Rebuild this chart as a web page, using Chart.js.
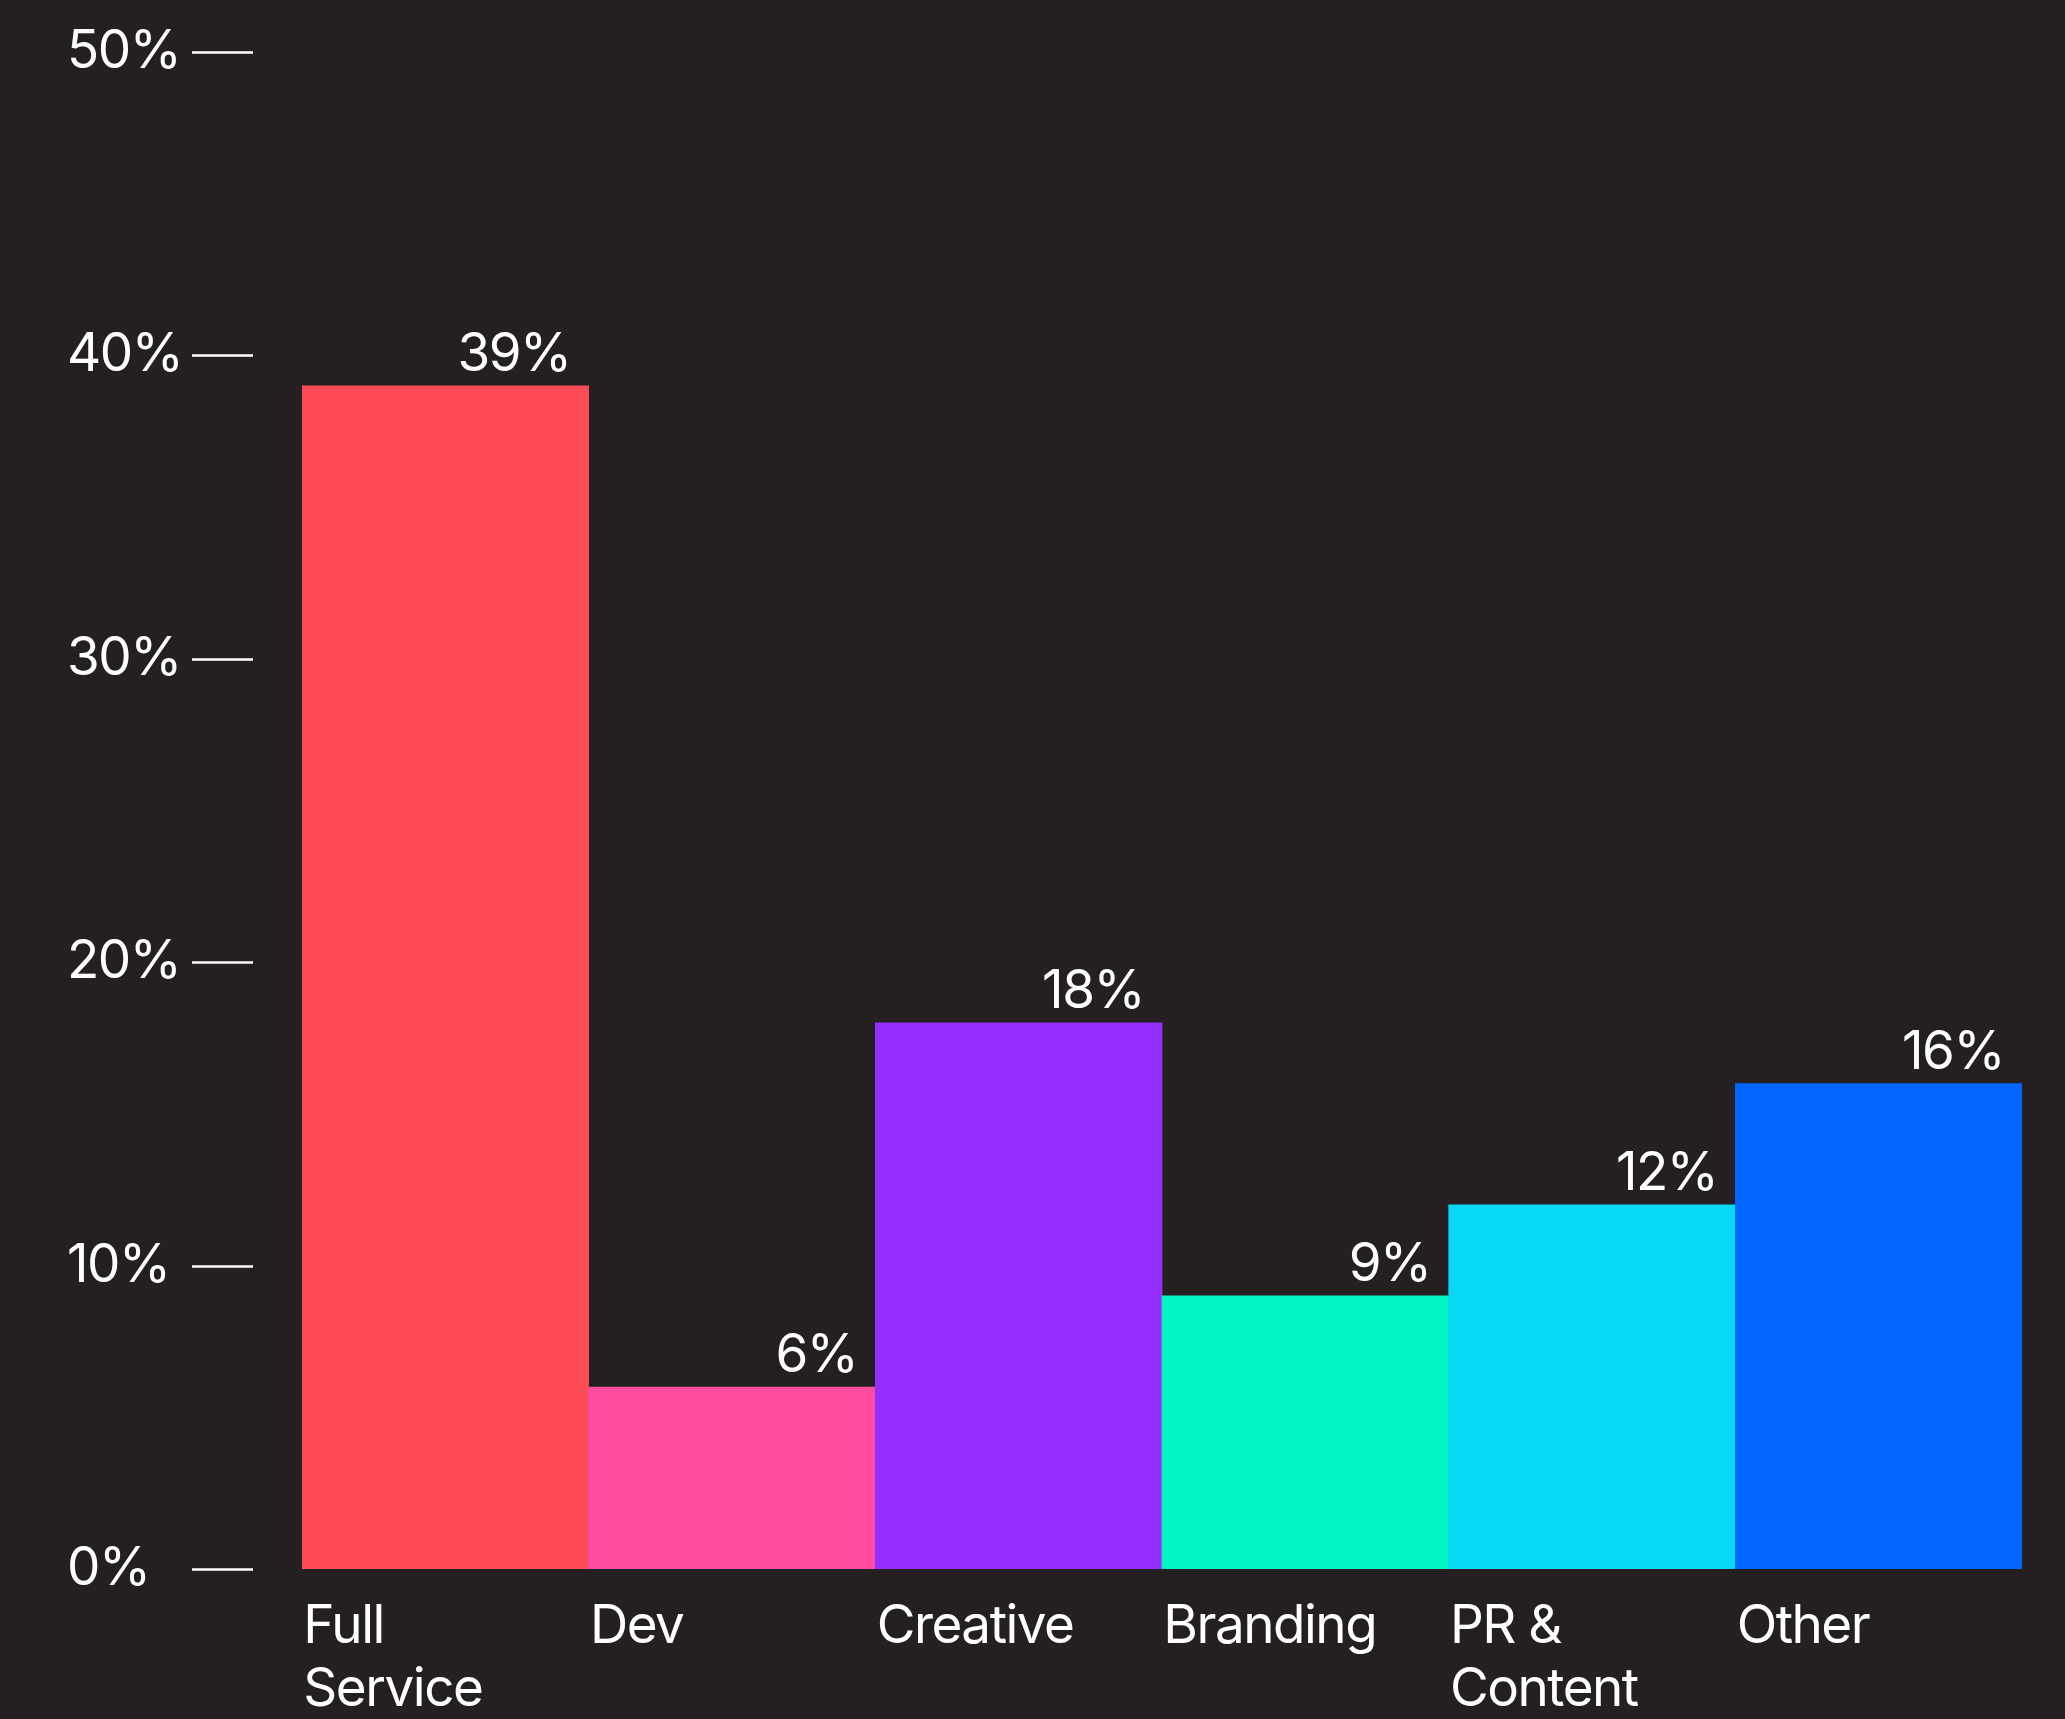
<!DOCTYPE html>
<html>
<head>
<meta charset="utf-8">
<script src="https://cdn.jsdelivr.net/npm/chart.js@4"></script>
<style>
    html, body { margin: 0; padding: 0; background: #242021; }
    #wrap { width: 2065px; height: 1719px; }
</style>
</head>
<body>
<div id="wrap">
    <canvas id="agencyChart" width="2065" height="1719"></canvas>
</div>

<script>
    const categories = [['Full', 'Service'], ['Dev'], ['Creative'], ['Branding'], ['PR &', 'Content'], ['Other']];
    const shares = [39, 6, 18, 9, 12, 16];
    const barColors = ['#ff4c57', '#ff4ba0', '#932fff', '#00f5c3', '#07d8f5', '#0066ff'];
    const yTicks = [0, 10, 20, 30, 40, 50];

    const FONT = { family: 'Inter, "Noto Sans", sans-serif', size: 53, weight: '400', lineHeight: 1.2 };

    // tighten the lettering a bit, set before anything is measured or drawn
    const tightText = {
        id: 'tightText',
        beforeInit(chart) { chart.ctx.letterSpacing = '-1.5px'; },
        beforeDraw(chart) { chart.ctx.letterSpacing = '-1.5px'; }
    };

    // short dash next to each y tick label, with a gap before the bars
    const tickDashes = {
        id: 'tickDashes',
        afterDraw(chart) {
            const ctx = chart.ctx;
            const y = chart.scales.y;
            const left = chart.chartArea.left;
            ctx.save();
            ctx.strokeStyle = '#ffffff';
            ctx.lineWidth = 2.5;
            y.ticks.forEach((t) => {
                const py = Math.round(y.getPixelForValue(t.value)) + 0.5;
                ctx.beginPath();
                ctx.moveTo(left - 110, py);
                ctx.lineTo(left - 49, py);
                ctx.stroke();
            });
            ctx.restore();
        }
    };

    // percentage above each bar, right aligned to the bar edge
    const valueLabels = {
        id: 'valueLabels',
        afterDatasetsDraw(chart) {
            const ctx = chart.ctx;
            const meta = chart.getDatasetMeta(0);
            ctx.save();
            ctx.fillStyle = '#ffffff';
            ctx.font = `${FONT.weight} ${FONT.size}px ${FONT.family}`;
            ctx.textAlign = 'right';
            ctx.textBaseline = 'alphabetic';
            meta.data.forEach((bar, i) => {
                ctx.fillText(shares[i] + '%', bar.x + bar.width / 2 - 18, bar.y - 15);
            });
            ctx.restore();
        }
    };

    const chart = new Chart(document.getElementById('agencyChart'), {
        type: 'bar',
        data: {
            labels: categories,
            datasets: [{
                data: shares,
                backgroundColor: barColors,
                borderWidth: 0,
                barPercentage: 1,
                categoryPercentage: 1
            }]
        },
        options: {
            responsive: false,
            devicePixelRatio: 1,
            animation: false,
            layout: { padding: { left: 67, top: 52, right: 43, bottom: 0 } },
            plugins: {
                legend: { display: false },
                tooltip: { enabled: false }
            },
            scales: {
                x: {
                    grid: { display: false, drawTicks: false },
                    border: { display: false },
                    ticks: {
                        color: '#ffffff',
                        font: FONT,
                        align: 'start',
                        labelOffset: -142,
                        padding: 26,
                        maxRotation: 0,
                        autoSkip: false
                    },
                    afterFit(scale) { scale.height = 150; }
                },
                y: {
                    min: 0,
                    max: 50,
                    grid: { display: false, drawTicks: false },
                    border: { display: false },
                    afterBuildTicks(scale) { scale.ticks = yTicks.map((v) => ({ value: v })); },
                    ticks: {
                        color: '#ffffff',
                        font: FONT,
                        crossAlign: 'far',
                        callback: (v) => v + '%'
                    },
                    afterFit(scale) { scale.width = 235; }
                }
            }
        },
        plugins: [tightText, tickDashes, valueLabels]
    });
</script>
</body>
</html>
